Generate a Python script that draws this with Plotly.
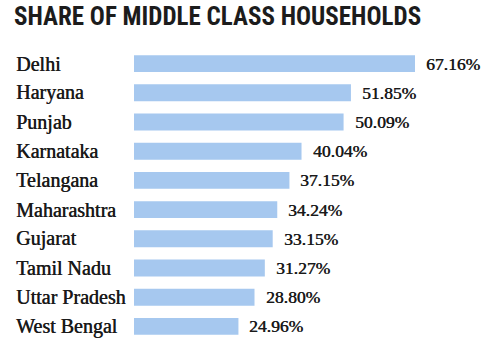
import plotly.graph_objects as go

states = ["Delhi", "Haryana", "Punjab", "Karnataka", "Telangana", "Maharashtra",
          "Gujarat", "Tamil Nadu", "Uttar Pradesh", "West Bengal"]
shares = [67.16, 51.85, 50.09, 40.04, 37.15, 34.24, 33.15, 31.27, 28.80, 24.96]
value_labels = ["67.16%", "51.85%", "50.09%", "40.04%", "37.15%", "34.24%",
                "33.15%", "31.27%", "28.80%", "24.96%"]
title_text = "SHARE OF MIDDLE CLASS HOUSEHOLDS"

W, H = 502, 354
px_per_unit = 4.184
bar_start = 134
x_min = -bar_start / px_per_unit
x_max = (W - bar_start) / px_per_unit

state_font = dict(family="Liberation Serif, DejaVu Serif, serif", size=20, color="#1a1a1a",
                  shadow="0.5px 0 0 #1a1a1a")
value_font = dict(family="Liberation Serif, DejaVu Serif, serif", size=17.5, color="#1a1a1a",
                  shadow="0.5px 0 0 #1a1a1a")

fig = go.Figure()
fig.add_trace(go.Bar(
    x=shares, y=states, orientation="h",
    marker=dict(color="#a6c8ef", line=dict(width=0)),
    width=0.58, hoverinfo="skip",
))

annotations = []
for s, v, t in zip(states, shares, value_labels):
    annotations.append(dict(x=v, y=s, xref="x", yref="y", text=t, showarrow=False,
                            xanchor="left", yanchor="middle", xshift=9, font=value_font))
    annotations.append(dict(x=14 / W, y=s, xref="paper", yref="y", text=s, showarrow=False,
                            xanchor="left", yanchor="middle", font=state_font))

fig.update_layout(
    width=W, height=H,
    margin=dict(l=0, r=0, t=49, b=13),
    paper_bgcolor="white", plot_bgcolor="white",
    showlegend=False,
    xaxis=dict(range=[x_min, x_max], visible=False, fixedrange=True),
    yaxis=dict(categoryorder="array", categoryarray=states, autorange="reversed",
               visible=False, fixedrange=True),
    title=dict(text="<b>" + title_text + "</b>", x=14 / W, xanchor="left", xref="container",
               y=1 - 7 / H, yanchor="top", yref="container",
               font=dict(family="Roboto Condensed, Liberation Sans Narrow, DejaVu Sans Condensed, sans-serif",
                         size=25, color="#1c1c1c")),
    annotations=annotations,
)

fig.write_html("out.html", config={"displayModeBar": False})
